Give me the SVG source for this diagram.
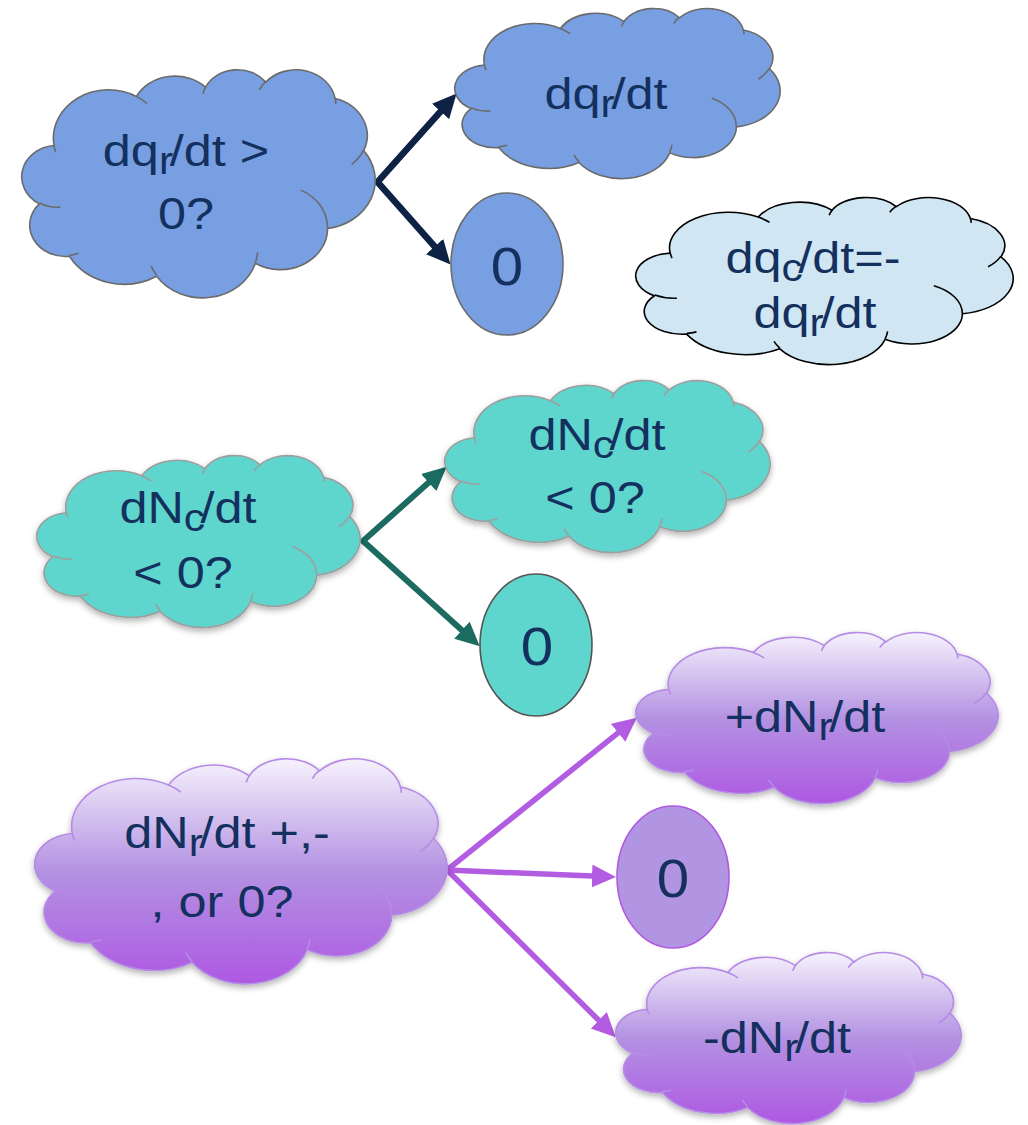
<svg xmlns="http://www.w3.org/2000/svg" xmlns:xlink="http://www.w3.org/1999/xlink" width="1028" height="1125" viewBox="0 0 1028 1125">
<style>
  .t { font-family: "Liberation Sans", Arial, sans-serif; fill: #14305E; text-anchor: middle; }
  .ct { font-size: 45px; }
  .ot { font-size: 53px; }
  .sr { font-size: 38px; letter-spacing: -3px; }
  .sc { font-size: 38px; letter-spacing: -4px; }
  .blue { fill: #779FE1; stroke: #6B6B6B; }
  .light { fill: #D0E7F3; stroke: #000000; }
  .teal { fill: #5FD6CD; stroke: #9E9E9E; }
  .purple { fill: url(#pg); stroke: #B58BE6; }
  .conn { fill: none; stroke-linejoin: miter; stroke-miterlimit: 10; }
</style>
<defs>
  <linearGradient id="pg" x1="0" y1="0" x2="0" y2="1">
    <stop offset="0" stop-color="#F6F2FC"/>
    <stop offset="0.5" stop-color="#B392E2"/>
    <stop offset="1" stop-color="#AE58E2"/>
  </linearGradient>
  <filter id="sh" x="-10%" y="-10%" width="120%" height="130%">
    <feDropShadow dx="0" dy="3" stdDeviation="3" flood-color="#000" flood-opacity="0.3"/>
  </filter>
  <path id="cloud" vector-effect="non-scaling-stroke" stroke-width="1.6" d="M9.03 33.26 A15.63 21.27 0 0 1 32.42 12.04 A12.34 16.82 0 0 1 51.98 7.95 A10.10 13.76 0 0 1 69.06 5.75 A11.24 15.27 0 0 1 88.70 12.91 A12.34 16.84 0 0 1 96.80 35.79 A15.68 21.34 0 0 1 86.59 69.92 A13.39 18.21 0 0 1 66.10 85.22 A15.63 21.33 0 0 1 38.15 90.90 A17.87 24.41 0 0 1 13.44 82.11 A10.09 13.70 0 0 1 4.90 59.15 A10.06 13.76 0 0 1 8.95 33.58 Z"/>
  <path id="creases" fill="none" vector-effect="non-scaling-stroke" stroke-width="1.6" d="M10.86 60.59 A10.06 13.76 0 0 1 5.00 58.75 M16.04 80.78 A10.09 13.70 0 0 1 13.47 81.67 M38.14 90.49 A15.63 21.33 0 0 1 36.60 86.46 M66.73 80.44 A15.63 21.33 0 0 1 66.11 84.86 M79.00 53.13 A13.39 18.21 0 0 1 86.53 69.61 M96.75 35.54 A12.34 16.84 0 0 1 93.40 41.74 M88.71 12.56 A11.24 15.27 0 0 1 88.89 15.49 M67.31 9.15 A11.24 15.27 0 0 1 69.03 5.42 M51.25 10.93 A10.10 13.76 0 0 1 52.08 7.71 M32.41 12.02 A15.63 21.27 0 0 1 35.41 15.14 M9.55 36.55 A15.63 21.27 0 0 1 9.03 33.26"/>
  <marker id="mNavy" markerUnits="userSpaceOnUse" markerWidth="26" markerHeight="24" refX="6" refY="11.5" orient="auto-start-reverse">
    <path d="M0 0 L24 11.5 L0 23 Z" fill="#0E2245"/>
  </marker>
  <marker id="mTeal" markerUnits="userSpaceOnUse" markerWidth="26" markerHeight="24" refX="6" refY="11.5" orient="auto-start-reverse">
    <path d="M0 0 L24 11.5 L0 23 Z" fill="#1B6B60"/>
  </marker>
  <marker id="mPurple" markerUnits="userSpaceOnUse" markerWidth="26" markerHeight="24" refX="6" refY="11.5" orient="auto-start-reverse">
    <path d="M0 0 L24 11.5 L0 23 Z" fill="#B25CE2"/>
  </marker>
</defs>
<rect width="1028" height="1125" fill="#FFFFFF"/>

<g id="connectors">
  <path class="conn" stroke="#0E2245" stroke-width="6.5" marker-start="url(#mNavy)" marker-end="url(#mNavy)" d="M444.6 107 L377.5 182 L438.6 251"/>
  <path class="conn" stroke="#1B6B60" stroke-width="6" marker-start="url(#mTeal)" marker-end="url(#mTeal)" d="M433.2 478.6 L363 541 L466.4 634.2"/>
  <path class="conn" stroke="#B25CE2" stroke-width="5.5" marker-start="url(#mPurple)" marker-end="url(#mPurple)" d="M622.8 729.1 L447 870 L603 1024.5"/>
  <path class="conn" stroke="#B25CE2" stroke-width="5.5" marker-end="url(#mPurple)" d="M447 870 L598 876.3"/>
</g>

<g id="q-dqr">
  <g class="blue"><use href="#cloud" transform="translate(22 69) scale(3.53 2.28)"/><use href="#creases" transform="translate(22 69) scale(3.53 2.28)"/></g>
  <text class="t ct" transform="translate(186 166) scale(1.12 1)">dq<tspan class="sr" dy="8">r</tspan><tspan dy="-8">/dt &gt;</tspan></text>
  <text class="t ct" transform="translate(186 229) scale(1.12 1)">0?</text>
</g>

<g id="out-dqr">
  <g class="blue"><use href="#cloud" transform="translate(455 8) scale(3.25 1.70)"/><use href="#creases" transform="translate(455 8) scale(3.25 1.70)"/></g>
  <text class="t ct" transform="translate(606 109) scale(1.12 1)">dq<tspan class="sr" dy="8">r</tspan><tspan dy="-8">/dt</tspan></text>
</g>

<g id="zero-1">
  <ellipse cx="507" cy="264" rx="56" ry="71" fill="#779FE1" stroke="#6B6B6B" stroke-width="1.6"/>
  <text class="t ot" transform="translate(507 285) scale(1.1 1)">0</text>
</g>

<g id="dqc">
  <g class="light"><use href="#cloud" transform="translate(636 197) scale(3.77 1.67)"/><use href="#creases" transform="translate(636 197) scale(3.77 1.67)"/></g>
  <text class="t ct" transform="translate(813 273) scale(1.12 1)">dq<tspan class="sc" dy="8">c</tspan><tspan dy="-8">/dt=-</tspan></text>
  <text class="t ct" transform="translate(815 328) scale(1.12 1)">dq<tspan class="sr" dy="8">r</tspan><tspan dy="-8">/dt</tspan></text>
</g>

<g id="q-dNc">
  <g class="teal" filter="url(#sh)"><use href="#cloud" transform="translate(37 455) scale(3.23 1.72)"/><use href="#creases" transform="translate(37 455) scale(3.23 1.72)"/></g>
  <text class="t ct" transform="translate(188 523) scale(1.12 1)">dN<tspan class="sc" dy="8">c</tspan><tspan dy="-8">/dt</tspan></text>
  <text class="t ct" transform="translate(183 588) scale(1.12 1)">&lt; 0?</text>
</g>

<g id="out-dNc">
  <g class="teal" filter="url(#sh)"><use href="#cloud" transform="translate(445 380) scale(3.25 1.72)"/><use href="#creases" transform="translate(445 380) scale(3.25 1.72)"/></g>
  <text class="t ct" transform="translate(597 450) scale(1.12 1)">dN<tspan class="sc" dy="8">c</tspan><tspan dy="-8">/dt</tspan></text>
  <text class="t ct" transform="translate(595 513) scale(1.12 1)">&lt; 0?</text>
</g>

<g id="zero-2">
  <ellipse cx="536" cy="645" rx="56" ry="71" fill="#5FD6CD" stroke="#555555" stroke-width="1.6"/>
  <text class="t ot" transform="translate(537 665) scale(1.1 1)">0</text>
</g>

<g id="q-dNr">
  <g class="purple" filter="url(#sh)"><use href="#cloud" transform="translate(35 758) scale(4.12 2.25)"/><use href="#creases" transform="translate(35 758) scale(4.12 2.25)"/></g>
  <text class="t ct" transform="translate(227 848) scale(1.12 1)">dN<tspan class="sr" dy="8">r</tspan><tspan dy="-8">/dt +,-</tspan></text>
  <text class="t ct" transform="translate(222 917) scale(1.12 1)">, or 0?</text>
</g>

<g id="out-plus">
  <g class="purple" filter="url(#sh)"><use href="#cloud" transform="translate(636 632) scale(3.62 1.71)"/><use href="#creases" transform="translate(636 632) scale(3.62 1.71)"/></g>
  <text class="t ct" transform="translate(805 732) scale(1.12 1)">+dN<tspan class="sr" dy="8">r</tspan><tspan dy="-8">/dt</tspan></text>
</g>

<g id="zero-3">
  <ellipse cx="673" cy="877" rx="56" ry="71" fill="#B194E2" stroke="#B05AE0" stroke-width="1.6"/>
  <text class="t ot" transform="translate(673 897) scale(1.1 1)">0</text>
</g>

<g id="out-minus">
  <g class="purple" filter="url(#sh)"><use href="#cloud" transform="translate(616 952) scale(3.45 1.71)"/><use href="#creases" transform="translate(616 952) scale(3.45 1.71)"/></g>
  <text class="t ct" transform="translate(777 1053) scale(1.12 1)">-dN<tspan class="sr" dy="8">r</tspan><tspan dy="-8">/dt</tspan></text>
</g>
</svg>
